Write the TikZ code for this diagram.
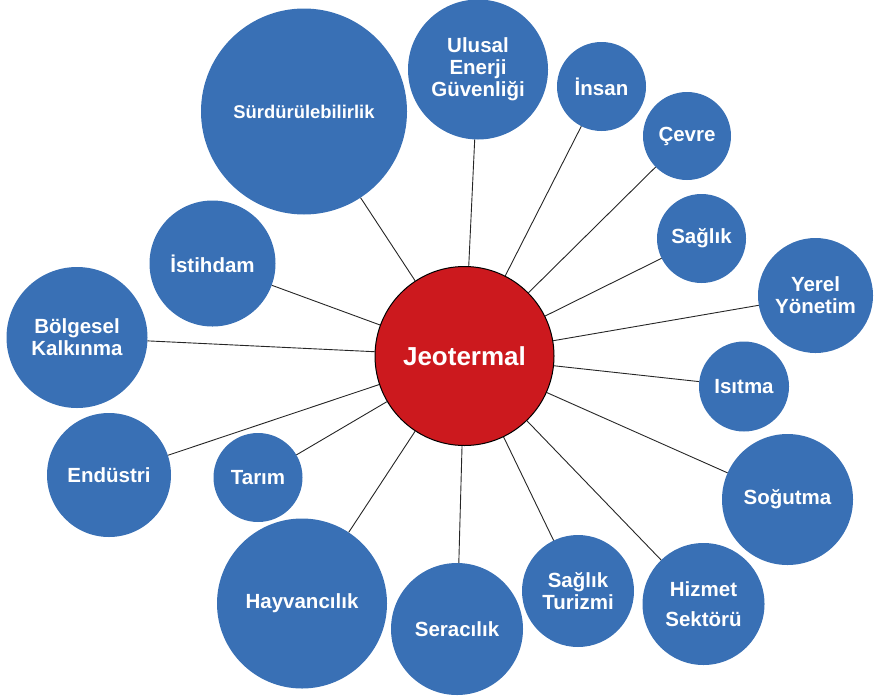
\documentclass[tikz,border=0pt]{standalone}
\usepackage{fontspec}
\setmainfont{Liberation Sans}
\usetikzlibrary{backgrounds}
\definecolor{bubbleblue}{RGB}{57,112,181}
\definecolor{corered}{RGB}{204,25,30}
\begin{document}
\begin{tikzpicture}[x=1pt,y=-1pt,
  bubble/.style={circle,fill=bubbleblue,inner sep=0pt,outer sep=0pt,
    minimum size=#1,text=white,align=center,
    font=\bfseries\fontsize{20.5}{22}\selectfont},
  core/.style={circle,fill=corered,draw=black,line width=1pt,inner sep=0pt,
    minimum size=179,text=white,font=\bfseries\fontsize{26}{30}\selectfont},
  link/.style={draw=black!85,line width=0.9pt}]
\useasboundingbox (0,0) rectangle (877,699);

% hub
\node[core] (jeo) at (464.5,356) {Jeotermal};

% surrounding topics
\node[bubble=206,font=\bfseries\fontsize{18.4}{22}\selectfont] (surd) at (304,111.5) {Sürdürülebilirlik};
\node[bubble=140] (ulusal) at (478,69.5) {Ulusal\\Enerji\\Güvenliği};
\node[bubble=89]  (insan)  at (601.5,86.5) {İnsan};
\node[bubble=88]  (cevre)  at (687,136) {Çevre};
\node[bubble=89]  (saglik) at (701.5,238.5) {Sağlık};
\node[bubble=115] (yerel)  at (815.5,295.5) {Yerel\\Yönetim};
\node[bubble=90]  (isitma) at (744,386.5) {Isıtma};
\node[bubble=131] (sogutma) at (787.5,499.5) {Soğutma};
\node[bubble=122,font=\bfseries\fontsize{20.5}{30}\selectfont] (hizmet) at (703.5,604) {Hizmet\\Sektörü};
\node[bubble=112] (turizm) at (578,591) {Sağlık\\Turizmi};
\node[bubble=132] (sera)   at (457,629) {Seracılık};
\node[bubble=170] (hayvan) at (302,603.5) {Hayvancılık};
\node[bubble=89]  (tarim)  at (258,477.5) {Tarım};
\node[bubble=124] (endustri) at (109,475) {Endüstri};
\node[bubble=141] (bolge)  at (77,337.5) {Bölgesel\\Kalkınma};
\node[bubble=126] (istihdam) at (212.5,263.5) {İstihdam};

% spokes from the hub
\begin{scope}[on background layer]
\foreach \n in {surd,ulusal,insan,cevre,saglik,yerel,isitma,sogutma,
                hizmet,turizm,sera,hayvan,tarim,endustri,bolge,istihdam}
  \draw[link] (jeo) -- (\n);
\end{scope}
\end{tikzpicture}
\end{document}
